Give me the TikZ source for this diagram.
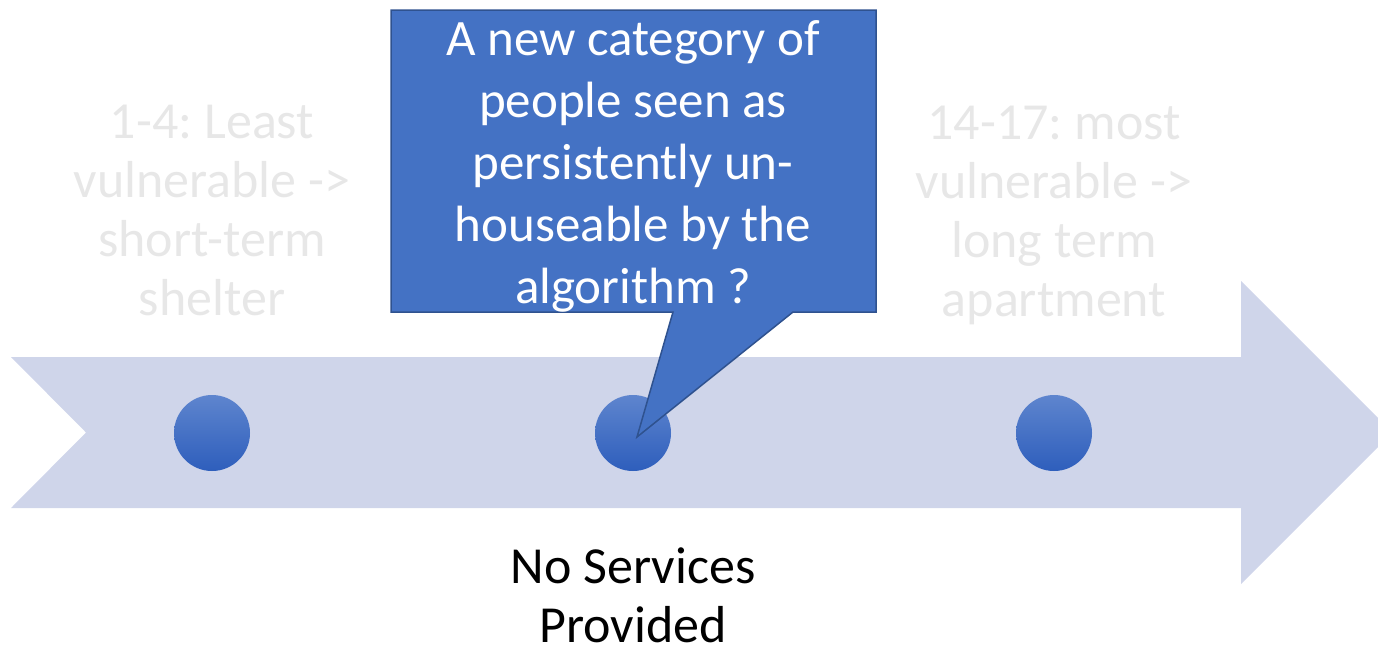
\documentclass[tikz,border=0pt]{standalone}
\usepackage{fontspec}
\setmainfont{Carlito}
\usetikzlibrary{calc}
\frenchspacing
\definecolor{arrowfill}{RGB}{207,213,234}
\definecolor{dottop}{RGB}{94,133,206}
\definecolor{dotbot}{RGB}{46,94,188}
\definecolor{callfill}{RGB}{68,114,196}
\definecolor{calldraw}{RGB}{47,82,143}
\definecolor{fadetext}{RGB}{231,231,231}
\tikzset{
  dot/.style={circle, inner sep=0pt, minimum size=76pt, shading=axis, top color=dottop, bottom color=dotbot, draw=none},
  bigtext/.style={align=center, inner sep=0pt, font=\fontsize{52}{59}\selectfont\frenchspacing},
  fadelabel/.style={bigtext, text=fadetext},
  calltext/.style={align=center, inner sep=0pt, text=white, font=\fontsize{51}{62}\selectfont\frenchspacing},
  callshape/.style={fill=callfill, draw=calldraw, line width=1.5pt, line join=miter},
}
\begin{document}
\begin{tikzpicture}[x=1pt, y=-1pt]
\useasboundingbox (0,0) rectangle (1378,649);
\clip (0,0) rectangle (1378,649);
% timeline arrow
\fill[arrowfill] (11,357) -- (1241,357) -- (1241,281) -- (1392.5,432.5) -- (1241,584) -- (1241,508) -- (11,508) -- (86,432.5) -- cycle;
% dots
\node[dot] (d1) at (212,433) {};
\node[dot] (d2) at (633,433) {};
\node[dot] (d3) at (1054,433) {};
% faded labels
\node[fadelabel] (l1) at (212,210) {1-4: Least\\vulnerable ->\\short-term\\shelter};
\node[fadelabel] (l3) at (1054,215) {14-17: most\\vulnerable ->\\long term\\apartment};
% callout
\coordinate (tip) at ($(d2.center)+(4,4)$);
\draw[callshape] (391,10) -- (876,10) -- (876,312) -- (793,312) -- (tip) -- (673,312) -- (391,312) -- cycle;
\node[calltext] (ct) at (633,166) {A new category of\\people seen as\\persistently un-\\houseable by the\\algorithm ?};
% bottom label
\node[bigtext] (ns) at (633,595) {No Services\\Provided};
\end{tikzpicture}
\end{document}
